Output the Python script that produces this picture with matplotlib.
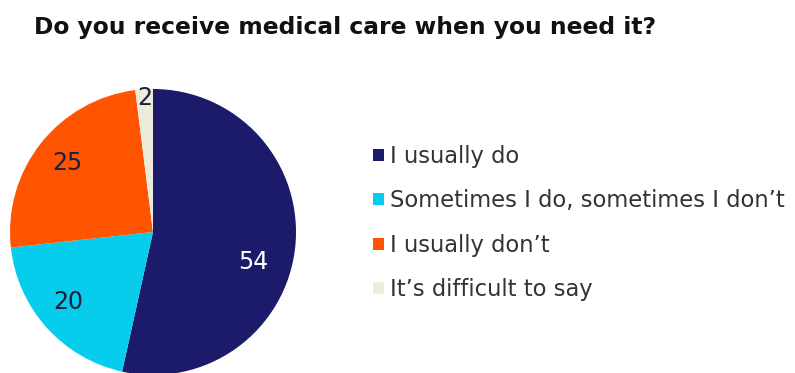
import matplotlib.pyplot as plt
from matplotlib.patches import Patch

# survey answers, percent
labels = ["I usually do", "Sometimes I do, sometimes I don\u2019t",
          "I usually don\u2019t", "It\u2019s difficult to say"]
values = [54, 20, 25, 2]
colors = ["#1b1a6b", "#06cdeb", "#ff5500", "#ecebdc"]
text_colors = ["white", "#1b1f3a", "#1b1f3a", "#1b1f3a"]

fig = plt.figure(figsize=(7.95, 3.73), dpi=100)
fig.patch.set_facecolor("white")

fig.text(34 / 795, 0.927, "Do you receive medical care when you need it?",
         family="DejaVu Sans", fontweight="bold", fontsize=16.8,
         color="#111111", va="center", ha="left")

# pie axes: centre ~ (153, 232) px, radius ~143 px
r = 143
cx, cy = 153, 373 - 232
ax = fig.add_axes([(cx - r) / 795, (cy - r) / 373, 2 * r / 795, 2 * r / 373])
wedges, _ = ax.pie(values, colors=colors, startangle=90, counterclock=False,
                   radius=1.0)
ax.set_xlim(-1, 1)
ax.set_ylim(-1, 1)
ax.set_aspect("equal")
ax.axis("off")

# value labels inside wedges
label_pos = [(0.70, -0.21), (-0.59, -0.49), (-0.6, 0.48), (-0.06, 0.94)]
for (x, y), v, tc in zip(label_pos, values, text_colors):
    ax.text(x, y, str(v), fontsize=17, color=tc, ha="center", va="center",
            family="DejaVu Sans")

handles = [Patch(facecolor=c, edgecolor="none") for c in colors]
fig.legend(handles, labels, loc="center left",
           bbox_to_anchor=(353 / 795, 1 - 223 / 373), frameon=False,
           prop={"family": "DejaVu Sans", "size": 16.3},
           handlelength=0.45, handleheight=0.45, handletextpad=0.3,
           labelspacing=0.95, labelcolor="#333333")

fig.savefig("out.png", dpi=100)
